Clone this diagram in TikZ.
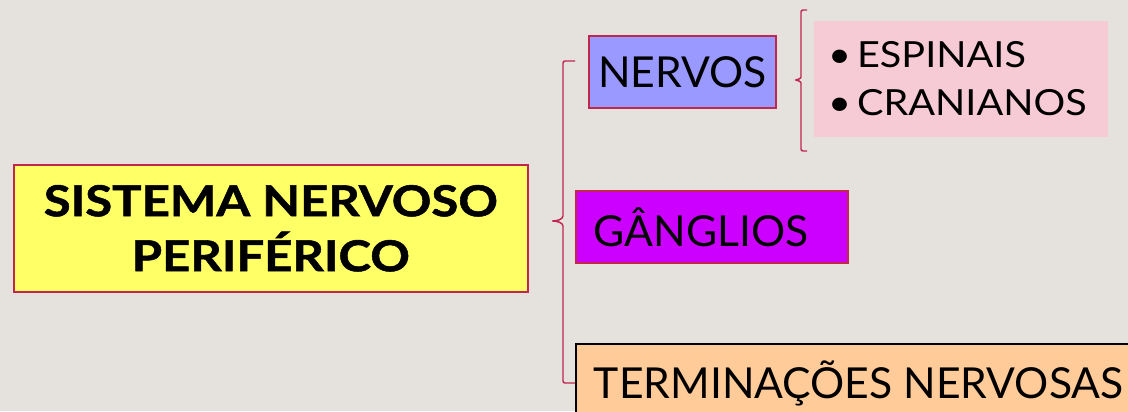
\documentclass[tikz,border=0pt]{standalone}
\usepackage{fontspec}
\setmainfont{Lato}
\newfontfamily\titulo{Lato}[FakeStretch=1.15,FakeBold=1.2]
\newfontfamily\lista{Lato}[FakeStretch=1.1]
\definecolor{fundo}{RGB}{229,226,222}
\definecolor{borda}{RGB}{192,38,78}
\definecolor{amarelo}{RGB}{255,255,102}
\definecolor{azul}{RGB}{153,153,255}
\definecolor{roxo}{RGB}{204,0,255}
\definecolor{laranja}{RGB}{255,204,153}
\definecolor{rosa}{RGB}{247,203,213}
\begin{document}
\begin{tikzpicture}[x=0.75pt,y=-0.75pt,
    caixa/.style={draw=borda,line width=1.2pt,anchor=north west,inner ysep=0pt,
      font=\fontsize{32}{38}\selectfont},
    chave/.style={draw=borda,line width=1.1pt,rounded corners=1.5pt}]
  \useasboundingbox[fill=fundo] (0,0) rectangle (1128,411);
  \node[caixa,fill=amarelo,minimum width=385.5pt,minimum height=95.25pt,align=center,
    font=\titulo\bfseries\fontsize{32}{41.25}\selectfont] (snp) at (13,164) {SISTEMA NERVOSO\\PERIFÉRICO};
  \node[caixa,fill=azul,minimum width=140.25pt,minimum height=54pt] (nervos) at (588,35) {NERVOS};
  \node[caixa,fill=roxo,minimum height=54pt,text width=177pt,inner xsep=13.5pt,
    align=left] (ganglios) at (575,190) {GÂNGLIOS};
  \node[caixa,draw=black,fill=laranja,minimum height=60pt,inner xsep=13.5pt] (term) at (575,343)
    {TERMINAÇÕES NERVOSAS};
  \node[caixa,draw=none,fill=rosa,minimum height=87pt,text width=199pt,inner xsep=10.75pt,
    align=left,font=\lista\fontsize{27}{36}\selectfont] (tipos) at (813,20)
    {\textbullet\,ESPINAIS\\\textbullet\,CRANIANOS};
  % chaves
  \draw[chave] (575,61) -- (563,61) -- (563,214) to[out=-90,in=0] (551,221)
    to[out=0,in=90] (563,228) -- (563,383) -- (575,383);
  \draw[chave] (807,10) -- (801,10) -- (801,75) to[out=-90,in=0] (794,80)
    to[out=0,in=90] (801,85) -- (801,151) -- (807,151);
\end{tikzpicture}
\end{document}
